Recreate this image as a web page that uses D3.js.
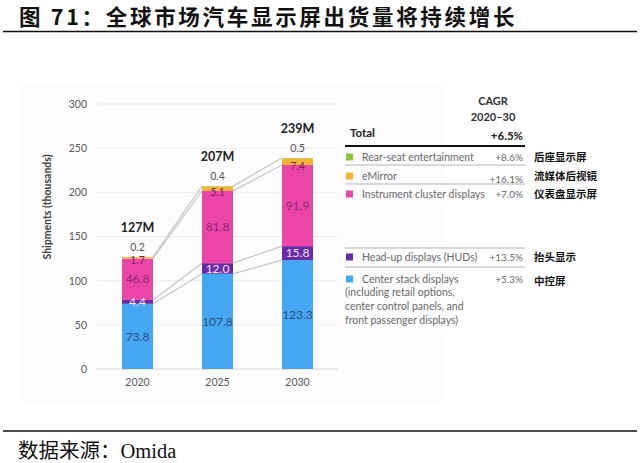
<!DOCTYPE html>
<html>
<head>
<meta charset="utf-8">
<script src="https://cdn.jsdelivr.net/npm/d3@7"></script>
<style>
  body { margin: 0; background: #fff; }
  svg { display: block; }
  .cn { font-family: "Noto Sans CJK SC", sans-serif; }
  .lat { font-family: Lato, "Open Sans", sans-serif; }
</style>
</head>
<body>
<svg id="chart" width="640" height="463"></svg>
<script>
// data
var years = ["2020", "2025", "2030"];
var centerStack = [73.8, 107.8, 123.3];
var hud = [4.4, 12.0, 15.8];
var instrument = [46.8, 81.8, 91.9];
var eMirror = [1.7, 5.1, 7.4];
var rearSeat = [0.2, 0.4, 0.5];
var totals = ["127M", "207M", "239M"];
var yTicks = [0, 50, 100, 150, 200, 250, 300];

var legendNames = ["Rear-seat entertainment", "eMirror", "Instrument cluster displays",
                   "Head-up displays (HUDs)", "Center stack displays"];
var legendCagr = ["+8.6%", "+16.1%", "+7.0%", "+13.5%", "+5.3%"];
var legendCn = ["后座显示屏", "流媒体后视镜", "仪表盘显示屏", "抬头显示", "中控屏"];
var centerNote = ["(including retail options,", "center control panels, and", "front passenger displays)"];

var keys = ["center", "hud", "instrument", "emirror", "rear"];
var colors = { center: "#45a6f2", hud: "#6b2aa6", instrument: "#ec45a9", emirror: "#f5b533", rear: "#8cc63f" };
var labelColors = { center: "#2d4f80", hud: "#efe3fb", instrument: "#8a2a6d", emirror: "#7a2259", rear: "#555" };

var rows = years.map(function(y, i) {
    return { year: y, center: centerStack[i], hud: hud[i], instrument: instrument[i],
             emirror: eMirror[i], rear: rearSeat[i], total: totals[i] };
});

var svg = d3.select("#chart");

// page title and rules
svg.append("text")
    .attr("class", "cn")
    .attr("x", 19).attr("y", 25)
    .attr("font-size", 21.5).attr("font-weight", 700)
    .attr("letter-spacing", 2.7)
    .attr("fill", "#111")
    .text("图 71：全球市场汽车显示屏出货量将持续增长");

svg.append("line").attr("x1", 3).attr("x2", 637).attr("y1", 31.5).attr("y2", 31.5)
    .attr("stroke", "#111").attr("stroke-width", 1.6);
svg.append("line").attr("x1", 3).attr("x2", 637).attr("y1", 431).attr("y2", 431)
    .attr("stroke", "#111").attr("stroke-width", 1.6);

svg.append("text")
    .attr("x", 18).attr("y", 458)
    .attr("font-size", 20.5)
    .attr("font-family", "'Liberation Serif', 'Noto Sans CJK SC', serif")
    .attr("fill", "#111")
    .text("数据来源：Omida");

// faint image panel
svg.append("rect").attr("x", 18).attr("y", 82).attr("width", 428).attr("height", 320)
    .attr("fill", "#fcfcfc");

var y = d3.scaleLinear().domain([0, 300]).range([369, 104]);
var x = d3.scaleBand().domain(years).range([97.5, 337.5])
    .paddingInner(0.6125).paddingOuter(0.30625);
var bw = x.bandwidth();

// grid
svg.append("g")
    .selectAll("line")
    .data(yTicks)
    .enter().append("line")
    .attr("x1", 97).attr("x2", 338)
    .attr("y1", function(d) { return y(d); })
    .attr("y2", function(d) { return y(d); })
    .attr("stroke", function(d) { return d === 0 ? "#d9d9d9" : "#ececec"; })
    .attr("stroke-width", 1);

// y axis labels
var yAxis = d3.axisLeft(y).tickValues(yTicks).tickSize(0).tickPadding(0);
var gy = svg.append("g").attr("transform", "translate(87,0)").call(yAxis);
gy.select(".domain").remove();
gy.selectAll("text").attr("class", "lat").attr("font-size", 10.5).attr("fill", "#595959");

var xAxis = d3.axisBottom(x).tickSize(0).tickPadding(0);
var gx = svg.append("g").attr("transform", "translate(0,379)").call(xAxis);
gx.select(".domain").remove();
gx.selectAll("text").attr("class", "lat").attr("font-size", 10.5).attr("fill", "#595959");

svg.append("text")
    .attr("class", "lat")
    .attr("transform", "translate(51,207) rotate(-90)")
    .attr("text-anchor", "middle")
    .attr("font-size", 10.5).attr("font-weight", 700)
    .attr("fill", "#404040")
    .text("Shipments (thousands)");

var stacked = d3.stack().keys(keys)(rows);

// connector lines between the bars
var linkLevels = [0, 1, 2, 4];
var links = [];
linkLevels.forEach(function(l) {
    for (var i = 0; i < years.length - 1; i++) {
        links.push({ a: stacked[l][i], b: stacked[l][i + 1], ya: years[i], yb: years[i + 1] });
    }
});
svg.append("g")
    .selectAll("line")
    .data(links)
    .enter().append("line")
    .attr("x1", function(d) { return x(d.ya) + bw; })
    .attr("x2", function(d) { return x(d.yb); })
    .attr("y1", function(d) { return y(d.a[1]); })
    .attr("y2", function(d) { return y(d.b[1]); })
    .attr("stroke", "#c8c8c8").attr("stroke-width", 1.3);

// bars
var layer = svg.append("g")
    .selectAll("g")
    .data(stacked)
    .enter().append("g")
    .attr("fill", function(d) { return colors[d.key]; });

layer.selectAll("rect")
    .data(function(d) { return d; })
    .enter().append("rect")
    .attr("x", function(d) { return x(d.data.year); })
    .attr("width", bw)
    .attr("y", function(d) { return y(d[1]); })
    .attr("height", function(d) { return y(d[0]) - y(d[1]); });

// value labels
var labels = svg.append("g").attr("class", "lat").attr("text-anchor", "middle");
stacked.forEach(function(s) {
    var small = s.key === "rear" || s.key === "emirror";
    labels.selectAll(null)
        .data(s)
        .enter().append("text")
        .attr("x", function(d) { return x(d.data.year) + bw / 2; })
        .attr("y", function(d) {
            if (s.key === "rear") return y(d[1]) - 10;
            if (s.key === "emirror") return y(d[0]) + 1.5;
            return (y(d[0]) + y(d[1])) / 2;
        })
        .attr("dy", "0.35em")
        .attr("font-size", small ? 10.5 : 12)
        .attr("fill", labelColors[s.key])
        .text(function(d) { return d.data[s.key].toFixed(1); });
});

// totals
svg.append("g")
    .selectAll("text")
    .data(stacked[4])
    .enter().append("text")
    .attr("class", "lat")
    .attr("x", function(d) { return x(d.data.year) + bw / 2; })
    .attr("y", function(d) { return y(d[1]) - 29; })
    .attr("dy", "0.35em")
    .attr("text-anchor", "middle")
    .attr("font-size", 12.5).attr("font-weight", 700)
    .attr("fill", "#222")
    .text(function(d) { return d.data.total; });

// legend table
var lg = svg.append("g").attr("class", "lat");
lg.append("text").attr("x", 493).attr("y", 101).attr("dy", "0.35em").attr("text-anchor", "middle")
    .attr("font-size", 11).attr("font-weight", 700).attr("fill", "#333").text("CAGR");
lg.append("text").attr("x", 493).attr("y", 117).attr("dy", "0.35em").attr("text-anchor", "middle")
    .attr("font-size", 11).attr("font-weight", 700).attr("fill", "#333").text("2020–30");
lg.append("text").attr("x", 350).attr("y", 133).attr("dy", "0.35em")
    .attr("font-size", 11.5).attr("font-weight", 700).attr("fill", "#222").text("Total");
lg.append("text").attr("x", 523).attr("y", 136).attr("dy", "0.35em").attr("text-anchor", "end")
    .attr("font-size", 11.5).attr("font-weight", 700).attr("fill", "#222").text("+6.5%");
lg.append("line").attr("x1", 345).attr("x2", 525).attr("y1", 146).attr("y2", 146)
    .attr("stroke", "#111").attr("stroke-width", 2.2);

var rowY = [157, 176, 194, 257, 279];
var ruleY = [165, 184, 248, 267];
var legendKeys = ["rear", "emirror", "instrument", "hud", "center"];

lg.selectAll(".rule")
    .data(ruleY)
    .enter().append("line")
    .attr("x1", 345).attr("x2", 525)
    .attr("y1", function(d) { return d; }).attr("y2", function(d) { return d; })
    .attr("stroke", "#b5b5b5").attr("stroke-width", 1);

var item = lg.selectAll(".item")
    .data(legendNames)
    .enter().append("g")
    .attr("transform", function(d, i) { return "translate(0," + rowY[i] + ")"; });

item.append("rect")
    .attr("x", 346).attr("y", -3.5).attr("width", 7).attr("height", 7)
    .attr("fill", function(d, i) { return colors[legendKeys[i]]; });
item.append("text")
    .attr("x", 362).attr("dy", "0.35em")
    .attr("font-size", 10.5).attr("fill", "#6a6a6a")
    .text(function(d) { return d; });
item.append("text")
    .attr("x", 523).attr("dy", "0.35em")
    .attr("y", function(d, i) { return i === 1 ? 3 : 0; })
    .attr("text-anchor", "end")
    .attr("font-size", 10).attr("fill", "#6a6a6a")
    .text(function(d, i) { return legendCagr[i]; });
item.append("text")
    .attr("class", "cn")
    .attr("x", 534).attr("dy", "0.35em")
    .attr("y", function(d, i) { return i === 4 ? 2 : 0; })
    .attr("font-size", 10.5).attr("font-weight", 700).attr("fill", "#111")
    .text(function(d, i) { return legendCn[i]; });

lg.selectAll(".note")
    .data(centerNote)
    .enter().append("text")
    .attr("x", 345)
    .attr("y", function(d, i) { return 292 + i * 14; })
    .attr("dy", "0.35em")
    .attr("font-size", 10.5).attr("fill", "#6a6a6a")
    .text(function(d) { return d; });
</script>
</body>
</html>
